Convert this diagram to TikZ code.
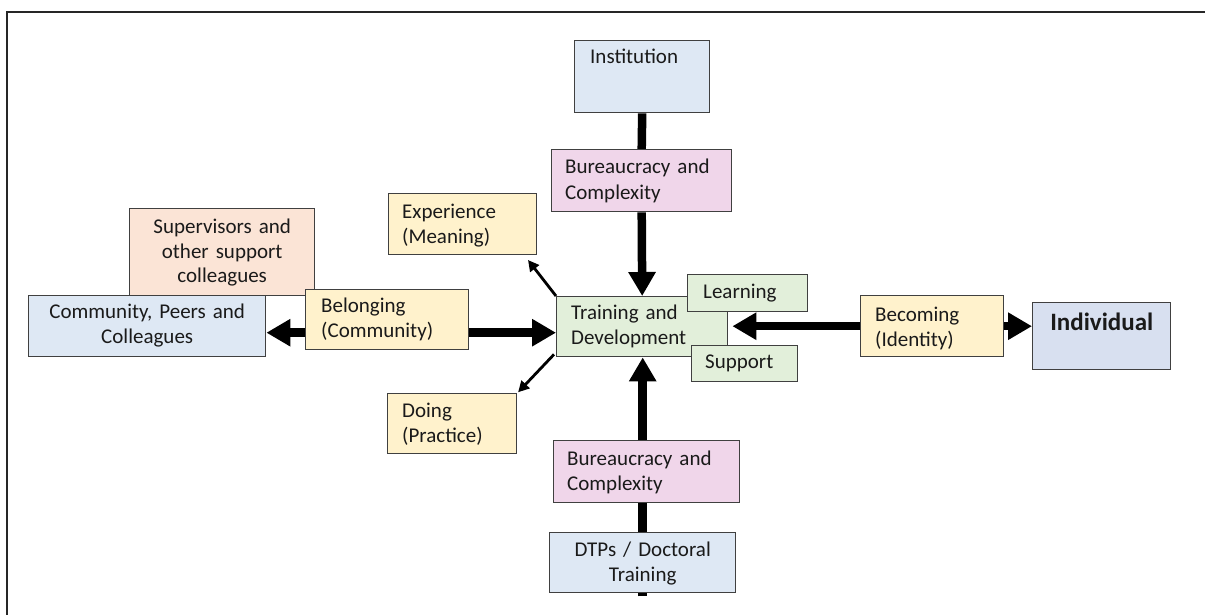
\documentclass[tikz,border=0pt]{standalone}
\usepackage{fontspec}
\setmainfont{Carlito}
\usetikzlibrary{arrows.meta,backgrounds}
\definecolor{boxblue}{HTML}{DEE8F4}
\definecolor{indblue}{HTML}{D8E0F0}
\definecolor{boxpink}{HTML}{F0D6EA}
\definecolor{boxyellow}{HTML}{FFF2CC}
\definecolor{boxgreen}{HTML}{E2EFDA}
\definecolor{boxpeach}{HTML}{FBE4D6}
\definecolor{edgegray}{HTML}{404040}
\definecolor{inkgray}{HTML}{1A1A1A}

\begin{document}
\begin{tikzpicture}[x=1pt,y=-1pt,
  box/.style={draw=edgegray, line width=1.4pt, rectangle, inner sep=0pt, anchor=north west},
  lbl/.style={inner sep=0pt, font=\fontsize{21}{25}\selectfont, text=inkgray, align=left},
  clbl/.style={inner sep=0pt, font=\fontsize{21}{25}\selectfont, text=inkgray, align=center, anchor=base},
  heavy/.style={line width=8.5pt, -{Triangle[length=24pt,width=26pt]}},
  heavyline/.style={line width=8.5pt},
  light/.style={line width=2.8pt, -{Triangle[length=11pt,width=11pt]}}]
\useasboundingbox (0,0) rectangle (1205,615);

% frame (open on the right and at the bottom)
\draw[line width=2.5pt, black!85] (7,615) -- (7,12) -- (1205,12);

% institution column
\node[box, fill=boxblue, minimum width=135pt, minimum height=72pt] (inst) at (574,40) {};
\node[lbl, anchor=base west, text width=115pt] (inst-t) at ([shift={(16,24)}]inst.north west) {Institution};
\node[box, fill=boxpink, minimum width=180pt, minimum height=62pt] (bt) at (551,149) {};
\node[lbl, anchor=base west, text width=160pt] (bt-t) at ([shift={(14,25)}]bt.north west) {Bureaucracy and\\Complexity};

% centre
\node[box, fill=boxgreen, minimum width=171pt, minimum height=60pt] (train) at (556,296) {};
\node[lbl, anchor=base west, text width=150pt] (train-t) at ([shift={(15,23)}]train.north west) {Training and\\Development};
\node[box, fill=boxgreen, minimum width=120pt, minimum height=37pt] (learn) at (687,274) {};
\node[lbl, anchor=base west, text width=100pt] (learn-t) at ([shift={(16,24)}]learn.north west) {Learning};
\node[box, fill=boxgreen, minimum width=106pt, minimum height=36pt] (supp) at (691,345) {};
\node[lbl, anchor=base west, text width=90pt] (supp-t) at ([shift={(14,23)}]supp.north west) {Support};

% right side
\node[box, fill=boxyellow, minimum width=143pt, minimum height=61pt] (becom) at (860,295) {};
\node[lbl, anchor=base west, text width=120pt] (becom-t) at ([shift={(15,26)}]becom.north west) {Becoming\\(Identity)};
\node[box, fill=indblue, minimum width=138pt, minimum height=67pt] (indiv) at (1032,302) {};
\node[clbl, font=\bfseries\fontsize{25}{30}\selectfont, text width=138pt] (indiv-t) at ([shift={(0,28)}]indiv.north) {Individual};

% left side
\node[box, fill=boxpeach, minimum width=185pt, minimum height=87pt] (sup) at (129,208) {};
\node[clbl, text width=185pt] (sup-t) at ([shift={(0,25)}]sup.north) {Supervisors and\\other support\\colleagues};
\node[box, fill=boxblue, minimum width=237pt, minimum height=61pt] (comm) at (28,295) {};
\node[clbl, text width=237pt] (comm-t) at ([shift={(0,23)}]comm.north) {Community, Peers and\\Colleagues};
\node[box, fill=boxyellow, minimum width=163pt, minimum height=60pt] (belong) at (305,289) {};
\node[lbl, anchor=base west, text width=145pt] (belong-t) at ([shift={(16,23)}]belong.north west) {Belonging\\(Community)};
\node[box, fill=boxyellow, minimum width=148pt, minimum height=61pt] (exper) at (388,193) {};
\node[lbl, anchor=base west, text width=130pt] (exper-t) at ([shift={(14,25)}]exper.north west) {Experience\\(Meaning)};
\node[box, fill=boxyellow, minimum width=129pt, minimum height=60pt] (doing) at (387,393) {};
\node[lbl, anchor=base west, text width=110pt] (doing-t) at ([shift={(15,24)}]doing.north west) {Doing\\(Practice)};

% doctoral training column
\node[box, fill=boxpink, minimum width=186pt, minimum height=62pt] (bb) at (553,440) {};
\node[lbl, anchor=base west, text width=165pt] (bb-t) at ([shift={(14,25)}]bb.north west) {Bureaucracy and\\Complexity};
\node[box, fill=boxblue, minimum width=186pt, minimum height=60pt] (dtp) at (549,532) {};
\node[clbl, text width=186pt] (dtp-t) at ([shift={(0,24)}]dtp.north) {DTPs / Doctoral\\Training};

\coordinate (expTip) at (528,260);

% connectors
\begin{scope}[on background layer]
  \draw[heavyline] (inst.south) -- (bt.north);
  \draw[heavyline] ([yshift=-3pt]dtp.south) -- (dtp.north |- bb.south);
\end{scope}
\draw[heavy] (bt.south) -- (train.north);
\draw[heavy] (dtp.north |- bb.north) -- (dtp.north |- train.south);
\draw[heavy] ([yshift=-13pt]belong.west) -- ([yshift=-13pt]belong.west -| comm.east);
\draw[heavy] ([yshift=-13pt]belong.east) -- ([yshift=-13pt]belong.east -| train.west);
\draw[heavy, shorten >=4pt] (becom.west) -- (becom.west -| train.east);
\draw[heavy] (becom.east) -- (becom.east -| indiv.west);
\draw[light] (train.north west) -- (expTip);
\draw[light, shorten >=1pt] ([shift={(-2,-3)}]train.south west) -- (doing.north east);
\end{tikzpicture}
\end{document}
